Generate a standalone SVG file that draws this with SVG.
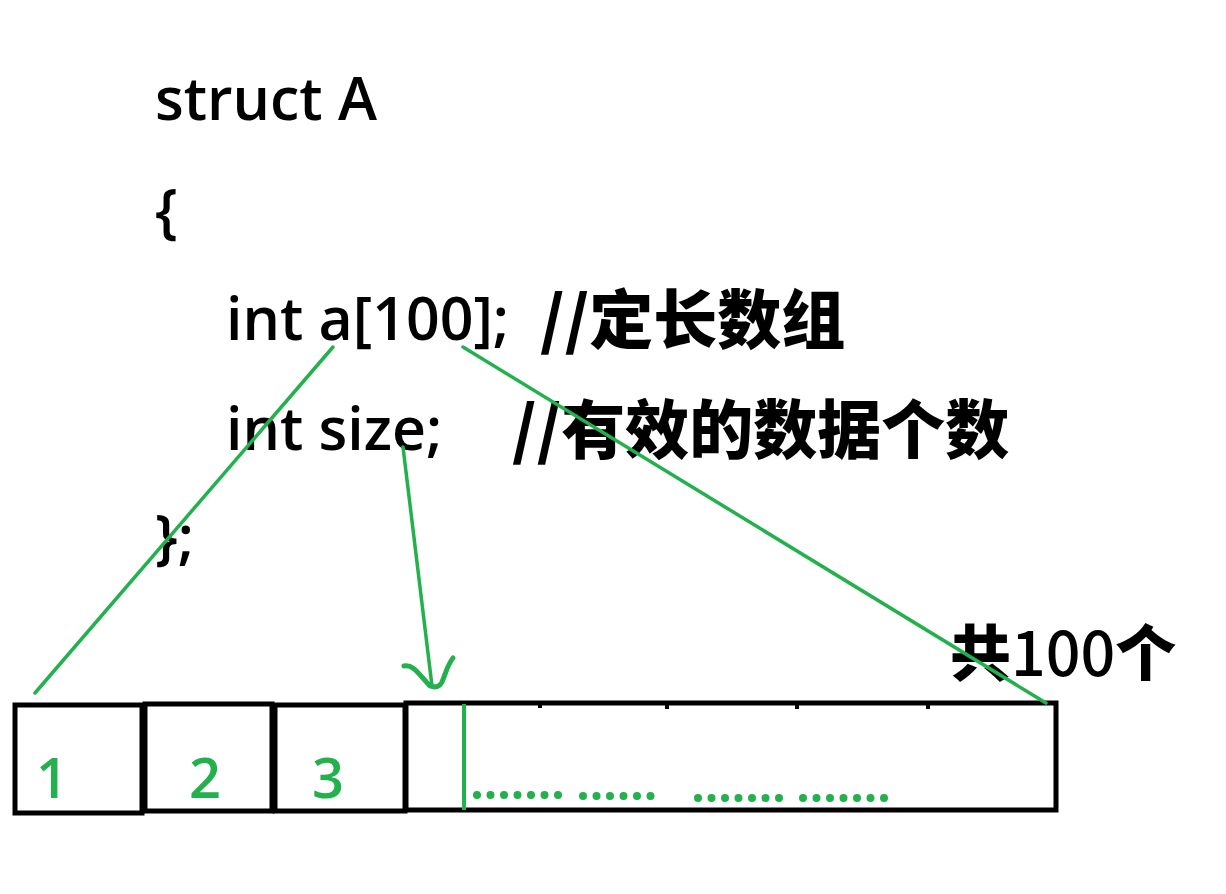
<svg xmlns="http://www.w3.org/2000/svg" width="1226" height="894" viewBox="0 0 1226 894">
<style>
.code{font-family:"Open Sans","Noto Sans",sans-serif;font-size:59px;font-weight:600;fill:#000}
.cmt{font-family:"Noto Sans CJK SC","Noto Sans",sans-serif;font-weight:900;font-size:64px;fill:#000}
.num{font-family:"Open Sans","Noto Sans",sans-serif;font-size:56px;font-weight:600;fill:#22b14c}
.cell{fill:none;stroke:#000;stroke-width:5}
.g{stroke:#22b14c;stroke-width:3.5;fill:none;stroke-linecap:round}
.dots{stroke:#22b14c;stroke-width:8;stroke-linecap:round;stroke-dasharray:0 13.5;fill:none}
</style>
<rect width="1226" height="894" fill="#fff"/>
<g id="code">
<text class="code" x="155" y="120">struct A</text>
<text class="code" x="155" y="232">{</text>
<text class="code" x="226" y="340">int a[100];</text>
<text class="cmt" x="540" y="343">//定长数组</text>
<text class="code" x="226" y="450">int size;</text>
<text class="cmt" x="512" y="453">//有效的数据个数</text>
<text class="code" x="155" y="558">};</text>
</g>
<g id="label-100">
<text x="950" y="676" style="font-family:'Noto Sans CJK SC',sans-serif;font-size:61px;font-weight:900">共<tspan font-weight="500">100</tspan>个</text>
</g>
<g id="cell1"><rect class="cell" x="15" y="705" width="127" height="108"/><text class="num" x="52" y="798" text-anchor="middle">1</text></g>
<g id="cell2"><rect class="cell" x="145" y="704" width="127" height="107"/><text class="num" x="205" y="798" text-anchor="middle">2</text></g>
<g id="cell3"><rect class="cell" x="275" y="705" width="130" height="106"/><text class="num" x="328" y="798" text-anchor="middle">3</text></g>
<g id="cell-rest">
<rect class="cell" x="406" y="703" width="650" height="107"/>
<path d="M540 703v5M667 703v6M797 703v6M928 703v6" stroke="#000" stroke-width="4"/>
<line x1="464" y1="704" x2="464" y2="810" stroke="#22b14c" stroke-width="4"/>
<path class="dots" d="M477 795H560M583 796H662M698 798H780M803 798H885"/>
</g>
<g id="connectors">
<line class="g" x1="333" y1="347" x2="35" y2="693"/>
<line class="g" x1="463" y1="347" x2="1046" y2="703"/>
<line class="g" x1="403" y1="447" x2="432" y2="686"/>
<path d="M404 666C414 664 420 676 430 686C436 688 440 686 442 682C446 672 448 664 453 658" stroke="#22b14c" stroke-width="5" fill="none" stroke-linecap="round" stroke-linejoin="round"/>
</g>
</svg>
